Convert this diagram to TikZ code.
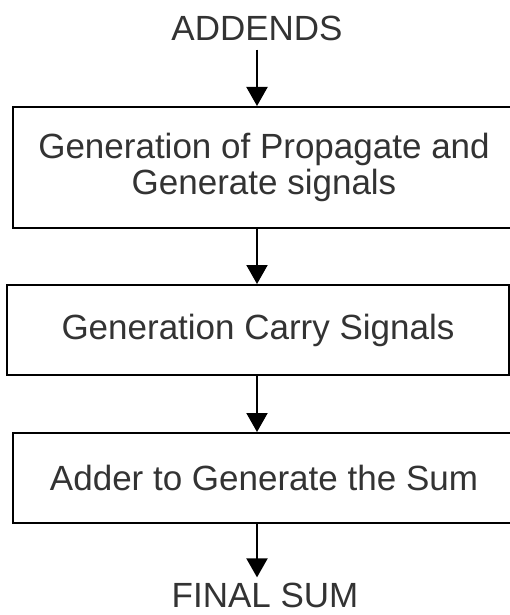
\documentclass[tikz,border=0pt]{standalone}
\usepackage{fontspec}
\setmainfont{Liberation Sans}
\usetikzlibrary{arrows.meta}
\begin{document}
\begin{tikzpicture}[x=1pt,y=-1pt,
  txt/.style={text=black!80, font=\fontsize{35}{36}\selectfont},
  box/.style={txt, draw=black, line width=2pt, minimum width=502pt, inner sep=0pt, align=center},
  lbl/.style={txt, inner sep=0pt},
  conn/.style={-{Triangle[length=19pt,width=21pt]}, line width=2pt, draw=black}]
\useasboundingbox (0,0) rectangle (510,615);
\node[lbl, anchor=base] (add) at (257,41) {ADDENDS};
\node[box, minimum height=121pt] (b1) at (264,167.5) {Generation of Propagate and\\Generate signals};
\node[box, minimum height=90pt] (b2) at (258,330) {Generation Carry Signals};
\node[box, minimum height=90pt] (b3) at (264,478) {Adder to Generate the Sum};
\node[lbl, anchor=base] (fin) at (265,607) {FINAL SUM};
\coordinate (addbot) at ([yshift=-8pt]add.south);
\coordinate (fintop) at ([yshift=5pt]fin.north);
\draw[conn] (addbot) -- (b1.north -| add);
\draw[conn] (b1.south -| add) -- (b2.north -| add);
\draw[conn] (b2.south -| add) -- (b3.north -| add);
\draw[conn] (b3.south -| add) -- (fintop -| add);
\end{tikzpicture}
\end{document}
